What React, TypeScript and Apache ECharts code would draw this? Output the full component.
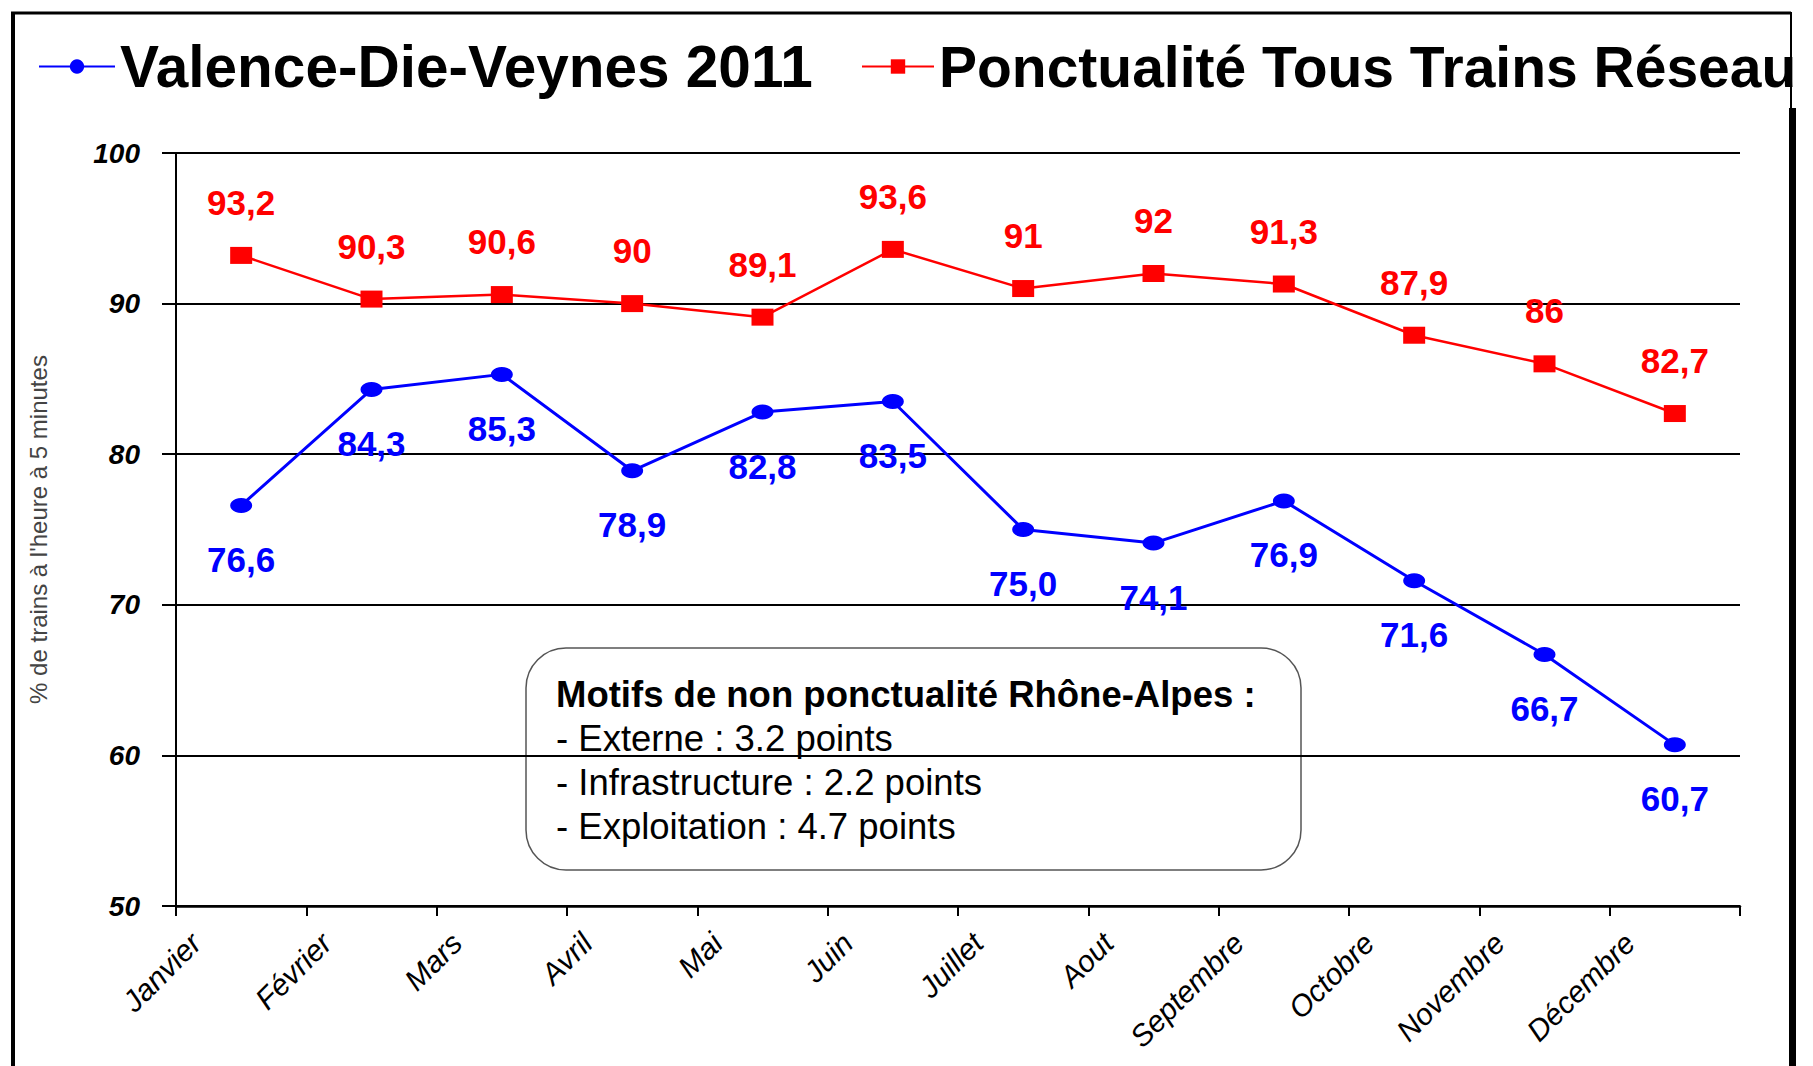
import { useEffect, useRef } from 'react';
import * as echarts from 'echarts';

const months = ['Janvier', 'Février', 'Mars', 'Avril', 'Mai', 'Juin', 'Juillet', 'Aout', 'Septembre', 'Octobre', 'Novembre', 'Décembre'];
const valenceDieVeynes = [76.6, 84.3, 85.3, 78.9, 82.8, 83.5, 75.0, 74.1, 76.9, 71.6, 66.7, 60.7];
const reseau = [93.2, 90.3, 90.6, 90, 89.1, 93.6, 91, 92, 91.3, 87.9, 86, 82.7];
const seriesNames = ['Valence-Die-Veynes 2011', 'Ponctualité Tous Trains Réseau'];
const yAxisName = "% de trains à l'heure à 5 minutes";
const yMin = 50;
const yMax = 100;
const yStep = 10;
const noteTitle = 'Motifs de non ponctualité Rhône-Alpes :';
const noteLines = ['- Externe : 3.2 points', '- Infrastructure : 2.2 points', '- Exploitation : 4.7 points'];

const FONT = '"Liberation Sans", Arial, sans-serif';
const BLUE = '#0000ff';
const RED = '#ff0000';

export default function App() {
  const ref = useRef<HTMLDivElement>(null);

  useEffect(() => {
    if (!ref.current) return;
    const chart = echarts.init(ref.current, undefined, { renderer: 'svg' });

    const H = 1066;
    const gridLeft = 176;
    const gridRight = 73;
    const gridTop = 153;
    const gridBottom = 160;
    const labelShift = 20;

    const option: any = {
      animation: false,
      backgroundColor: '#ffffff',
      textStyle: { fontFamily: FONT },
      legend: [
        {
          left: 33,
          top: 32,
          itemWidth: 76,
          itemHeight: 18,
          textStyle: { fontFamily: FONT, fontSize: 58.5, fontWeight: 'bold', color: '#000' },
          data: [seriesNames[0]],
        },
        {
          left: 856,
          top: 33,
          itemWidth: 72,
          itemHeight: 18,
          textStyle: { fontFamily: FONT, fontSize: 57, fontWeight: 'bold', color: '#000' },
          data: [seriesNames[1]],
        },
      ],
      grid: [
        { left: gridLeft, right: gridRight, top: gridTop, bottom: gridBottom },
        { left: gridLeft + labelShift, right: gridRight - labelShift, top: gridTop, bottom: gridBottom },
      ],
      xAxis: [
        {
          type: 'category',
          gridIndex: 0,
          data: months,
          boundaryGap: true,
          axisLine: { show: true, lineStyle: { color: '#000', width: 2.5 } },
          axisTick: { show: true, length: 10, lineStyle: { color: '#000', width: 2 } },
          axisLabel: { show: false },
          splitLine: { show: false },
        },
        {
          type: 'category',
          gridIndex: 1,
          data: [...months, ''],
          boundaryGap: false,
          axisLine: { show: false },
          axisTick: { show: false },
          splitLine: { show: false },
          axisLabel: {
            interval: 0,
            rotate: 45,
            margin: 32,
            fontFamily: FONT,
            fontSize: 30,
            fontStyle: 'italic',
            color: '#000',
          },
        },
      ],
      yAxis: [
        {
          type: 'value',
          gridIndex: 0,
          min: yMin,
          max: yMax,
          interval: yStep,
          name: yAxisName,
          nameLocation: 'middle',
          nameGap: 126,
          nameTextStyle: { fontFamily: FONT, fontSize: 24, color: '#444' },
          axisLine: { show: true, lineStyle: { color: '#000', width: 2 } },
          axisTick: { show: true, length: 14, lineStyle: { color: '#000', width: 2 } },
          axisLabel: {
            margin: 36,
            fontFamily: FONT,
            fontSize: 28,
            fontStyle: 'italic',
            fontWeight: 'bold',
            color: '#000',
          },
          splitLine: { show: true, lineStyle: { color: '#000', width: 2 } },
        },
        { type: 'value', gridIndex: 1, show: false, min: yMin, max: yMax },
      ],
      series: [
        {
          name: seriesNames[0],
          type: 'line',
          xAxisIndex: 0,
          yAxisIndex: 0,
          data: valenceDieVeynes,
          symbol: 'circle',
          symbolSize: [22, 15],
          lineStyle: { color: BLUE, width: 3 },
          itemStyle: { color: BLUE },
          label: {
            show: true,
            position: 'bottom',
            distance: 29,
            fontFamily: FONT,
            fontSize: 35,
            fontWeight: 'bold',
            color: BLUE,
            formatter: (p: any) => Number(p.value).toFixed(1).replace('.', ','),
          },
          z: 3,
        },
        {
          name: seriesNames[1],
          type: 'line',
          xAxisIndex: 0,
          yAxisIndex: 0,
          data: reseau,
          symbol: 'rect',
          symbolSize: [22, 17],
          lineStyle: { color: RED, width: 2.5 },
          itemStyle: { color: RED },
          label: {
            show: true,
            position: 'top',
            distance: 27,
            fontFamily: FONT,
            fontSize: 35,
            fontWeight: 'bold',
            color: RED,
            formatter: (p: any) => String(p.value).replace('.', ','),
          },
          z: 3,
        },
      ],
      graphic: [
        {
          type: 'group',
          z: 20,
          children: [
            {
              type: 'rect',
              shape: { x: 526, y: 648, width: 775, height: 222, r: 40 },
              style: { fill: '#fff', stroke: '#555', lineWidth: 1.5 },
            },
            {
              type: 'text',
              x: 556,
              y: 694,
              style: {
                text: noteTitle,
                font: `bold 36.5px ${FONT}`,
                fill: '#000',
                textVerticalAlign: 'middle',
              },
            },
            ...noteLines.map((t, i) => ({
              type: 'text',
              x: 556,
              y: 738 + i * 44,
              style: {
                text: t,
                font: `36.5px ${FONT}`,
                fill: '#000',
                textVerticalAlign: 'middle',
              },
            })),
          ],
        },
        {
          type: 'group',
          z: 30,
          children: [
            { type: 'line', shape: { x1: 13, y1: 13, x2: 13, y2: H }, style: { stroke: '#000', lineWidth: 4 } },
            { type: 'line', shape: { x1: 11, y1: 13, x2: 1791, y2: 13 }, style: { stroke: '#000', lineWidth: 3 } },
            { type: 'line', shape: { x1: 1791, y1: 12, x2: 1791, y2: 110 }, style: { stroke: '#000', lineWidth: 2 } },
            { type: 'line', shape: { x1: 1792.5, y1: 108, x2: 1792.5, y2: H }, style: { stroke: '#000', lineWidth: 7 } },
          ],
        },
      ],
    };

    chart.setOption(option);
    return () => chart.dispose();
  }, []);

  return (
    <div
      ref={ref}
      style={{ position: 'fixed', left: 0, top: 0, width: 1813, height: 1066, background: '#fff' }}
    />
  );
}
